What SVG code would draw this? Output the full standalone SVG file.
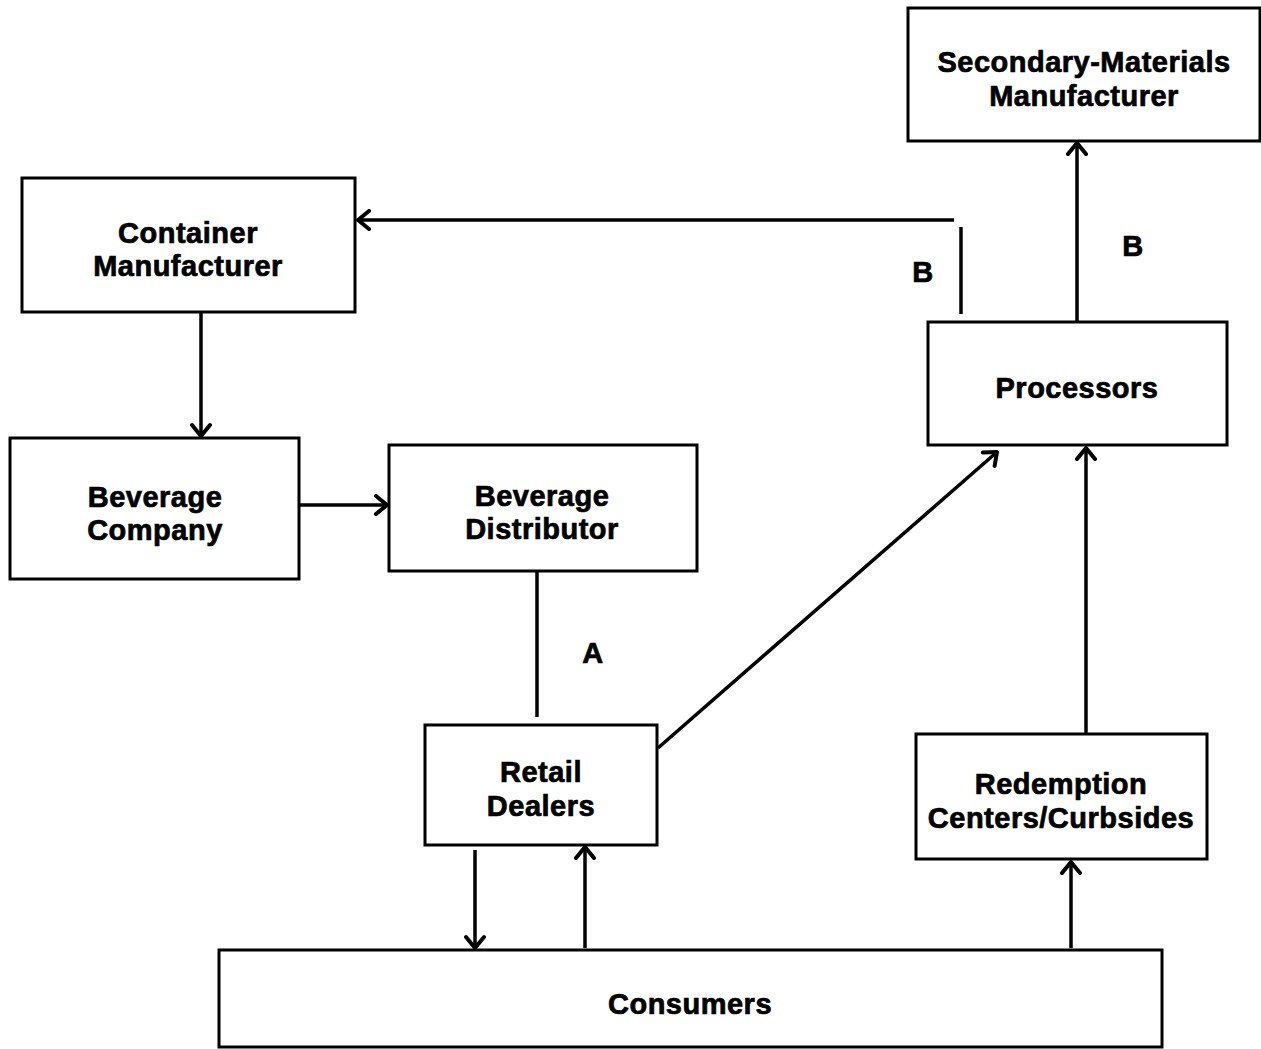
<svg xmlns="http://www.w3.org/2000/svg" width="1261" height="1049" viewBox="0 0 1261 1049">
<style>
.box{fill:none;stroke:#000;stroke-width:3}
.lbl{font-family:"Liberation Sans",Arial,sans-serif;font-weight:bold;font-size:29px;text-anchor:middle;fill:#000;stroke:#000;stroke-width:0.7;letter-spacing:0.5px}
.ln{fill:none;stroke:#000;stroke-width:3.5}
</style>
<defs>
<marker id="ah" viewBox="0 0 22 22" refX="20" refY="11" markerWidth="22" markerHeight="22" markerUnits="userSpaceOnUse" orient="auto">
<path d="M9,2 L20,11 L9,20" fill="none" stroke="#000" stroke-width="4" stroke-linecap="round" stroke-linejoin="round"/>
</marker>
</defs>
<rect width="1261" height="1049" fill="#fff"/>
<g id="secondary"><rect class="box" x="908" y="8" width="352" height="133"/><text class="lbl" x="1084" y="72">Secondary-Materials</text><text class="lbl" x="1084" y="106">Manufacturer</text></g>
<g id="container"><rect class="box" x="22" y="178" width="333" height="134"/><text class="lbl" x="188" y="243">Container</text><text class="lbl" x="188" y="276">Manufacturer</text></g>
<g id="bevco"><rect class="box" x="10" y="438" width="289" height="141"/><text class="lbl" x="155" y="507">Beverage</text><text class="lbl" x="155" y="540">Company</text></g>
<g id="bevdist"><rect class="box" x="389" y="445" width="308" height="126"/><text class="lbl" x="542" y="506">Beverage</text><text class="lbl" x="542" y="539">Distributor</text></g>
<g id="processors"><rect class="box" x="928" y="322" width="299" height="123"/><text class="lbl" x="1077" y="398">Processors</text></g>
<g id="retail"><rect class="box" x="425" y="725" width="232" height="120"/><text class="lbl" x="541" y="782">Retail</text><text class="lbl" x="541" y="816">Dealers</text></g>
<g id="redemption"><rect class="box" x="916" y="734" width="291" height="125"/><text class="lbl" x="1061" y="794">Redemption</text><text class="lbl" x="1061" y="828">Centers/Curbsides</text></g>
<g id="consumers"><rect class="box" x="219" y="950" width="943" height="97"/><text class="lbl" x="690" y="1014">Consumers</text></g>
<g id="connectors">
<line class="ln" x1="201" y1="312" x2="201" y2="436" marker-end="url(#ah)"/>
<line class="ln" x1="299" y1="505" x2="387" y2="505" marker-end="url(#ah)"/>
<line class="ln" x1="537" y1="571" x2="537" y2="717"/>
<line class="ln" x1="658" y1="748" x2="997" y2="452" marker-end="url(#ah)"/>
<line class="ln" x1="1077" y1="322" x2="1077" y2="143" marker-end="url(#ah)"/>
<line class="ln" x1="961" y1="314" x2="961" y2="227"/>
<line class="ln" x1="954" y1="220" x2="358" y2="220" marker-end="url(#ah)"/>
<line class="ln" x1="1086" y1="734" x2="1086" y2="448" marker-end="url(#ah)"/>
<line class="ln" x1="475" y1="850" x2="475" y2="948" marker-end="url(#ah)"/>
<line class="ln" x1="585" y1="948" x2="585" y2="847" marker-end="url(#ah)"/>
<line class="ln" x1="1071" y1="948" x2="1071" y2="862" marker-end="url(#ah)"/>
</g>
<g id="labels">
<text class="lbl" x="593" y="663">A</text>
<text class="lbl" x="1133" y="256">B</text>
<text class="lbl" x="923" y="282">B</text>
</g>
</svg>
